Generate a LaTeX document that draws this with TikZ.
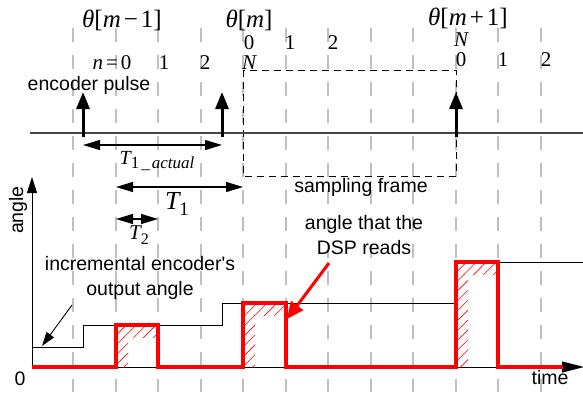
\documentclass[tikz,border=0pt]{standalone}
\usepackage{fontspec}
\setsansfont{Liberation Sans}
\newfontfamily\tms{Liberation Serif}
\usetikzlibrary{arrows.meta,patterns.meta}
\definecolor{gridgray}{RGB}{192,192,192}
\definecolor{axisgray}{RGB}{70,70,70}
\newcommand{\vi}[1]{{\itshape #1}}
\newcommand{\mns}{\hspace{3pt}−\hspace{3pt}}
\newcommand{\pls}{\hspace{3pt}+\hspace{3pt}}
\begin{document}
\begin{tikzpicture}[x=1pt,y=-1pt,
  gridline/.style={gridgray,line width=1.6pt,dash pattern=on 14pt off 13pt},
  pulsearrow/.style={black,line width=3pt,-{Triangle[width=13pt,length=17pt]}},
  dimarrow/.style={black,line width=1.3pt,{Triangle[width=10pt,length=17pt]}-{Triangle[width=10pt,length=17pt]}},
  frame/.style={black,line width=1pt,dash pattern=on 7pt off 5pt},
  redsig/.style={red,line width=3.5pt,line join=miter},
  hatch/.style={pattern={Lines[angle=45,distance=7pt,line width=0.6pt]},pattern color=red},
  lbl/.style={font=\sffamily\fontsize{19.5}{25}\selectfont,inner sep=0pt,align=center},
  thlbl/.style={font=\tms\fontsize{25}{27}\selectfont,inner sep=0pt},
  num/.style={font=\tms\fontsize{21}{23}\selectfont,inner sep=0pt},
]
\useasboundingbox (0,0) rectangle (583,392);
% grid
\foreach \x in {73,116,158,201,243,286,328,371,413,456,498,541}
  \draw[gridline] (\x,28) -- (\x,392);
% labels top
\node[thlbl] (thA) at (122,20) {\vi{θ}[\vi{m}\mns 1]};
\node[thlbl] (thB) at (249,20) {\vi{θ}[\vi{m}]};
\node[thlbl] (thC) at (468,18) {\vi{θ}[\vi{m}\pls 1]};
\node[num] (nA0) at (112,63) {\vi{n}\hspace{3pt}=\hspace{3pt}0};
\node[num] (nA1) at (164,63) {1};
\node[num] (nA2) at (205,63) {2};
\node[num] (nAN) at (249,63) {\vi{N}};
\node[num] (nB0) at (249,43) {0};
\node[num] (nB1) at (290,43) {1};
\node[num] (nB2) at (333,43) {2};
\node[num] (nCN) at (461,40) {\vi{N}};
\node[num] (nC0) at (461,60) {0};
\node[num] (nC1) at (503,60) {1};
\node[num] (nC2) at (546,60) {2};
\node[lbl] (enc) at (89,85) {encoder pulse};
% sampling frame
\draw[frame] (243,70) rectangle (456,176);
% baseline
\coordinate (bl0) at (30,133);
\coordinate (bl1) at (583,133);
\draw[axisgray,line width=1.6pt] (bl0) -- (bl1);
% pulses
\coordinate (pa0) at (83,137); \coordinate (pa1) at (83,92);
\coordinate (pb0) at (222,137); \coordinate (pb1) at (222,92);
\coordinate (pc0) at (456,137); \coordinate (pc1) at (456,92);
\draw[pulsearrow] (pa0) -- (pa1);
\draw[pulsearrow] (pb0) -- (pb1);
\draw[pulsearrow] (pc0) -- (pc1);
% dimension arrows
\coordinate (ta0) at (83,145); \coordinate (ta1) at (222,145);
\coordinate (t10) at (116,187); \coordinate (t11) at (243,187);
\coordinate (t20) at (116,219); \coordinate (t21) at (158,219);
\draw[dimarrow] (ta0) -- (ta1);
\draw[dimarrow] (t10) -- (t11);
\draw[dimarrow] (t20) -- (t21);
\node[font=\tms\fontsize{20}{22}\selectfont,inner sep=0pt] (lta) at (157,161)
  {\vi{T}\raisebox{-4pt}{\fontsize{17}{17}\selectfont 1\hspace{2pt}\_\hspace{2pt}\itshape actual}};
\node[font=\tms\fontsize{26}{28}\selectfont,inner sep=0pt] (lt1) at (177,204)
  {\vi{T}\raisebox{-6pt}{\fontsize{19}{19}\selectfont 1}};
\node[font=\tms\fontsize{21}{23}\selectfont,inner sep=0pt] (lt2) at (139,235)
  {\vi{T}\raisebox{-5pt}{\fontsize{16}{16}\selectfont 2}};
\node[lbl] (sf) at (361,187) {sampling frame};
% axes
\coordinate (org) at (32,367);
\coordinate (ytop) at (32,177);
\coordinate (xend) at (584,367);
\draw[black,line width=1pt,-{Triangle[width=10pt,length=16pt]}] (org) -- (ytop);
\draw[black,line width=1pt,-{Triangle[width=11pt,length=22pt]}] (org) -- (xend);
\node[lbl,rotate=90] (ang) at (18,210) {angle};
\node[lbl] (zero) at (20,379) {0};
\node[lbl] (time) at (550,378) {time};
% hatch
\fill[hatch] (116,325) rectangle (158,337);
\fill[hatch] (116,337) rectangle (128,367);
\fill[hatch] (243,303) rectangle (286,315);
\fill[hatch] (243,315) rectangle (255,367);
\fill[hatch] (456,262) rectangle (498,274);
\fill[hatch] (456,274) rectangle (468,367);
% encoder staircase
\draw[black,line width=1pt] (32,347) -- (83,347) -- (83,325) -- (222,325) -- (222,303) -- (456,303) -- (456,262) -- (583,262);
% red signal
\draw[redsig] (32,367) -- (116,367) -- (116,325) -- (158,325) -- (158,367) -- (243,367) -- (243,303) -- (286,303) -- (286,367) -- (456,367) -- (456,262) -- (498,262) -- (498,367) -- (563,367);
% annotations
\node[lbl] (inc) at (140,278) {incremental encoder\textquotesingle s\\output angle};
\coordinate (incs) at (72,305); \coordinate (ince) at (42,346);
\draw[black,line width=0.9pt,-{Triangle[width=9pt,length=14pt]}] (incs) -- (ince);
\node[lbl] (dsp) at (364,235) {angle that the\\DSP reads};
\coordinate (dsps) at (329,263); \coordinate (dspe) at (287,319);
\draw[red,line width=3pt,-{Triangle[width=15pt,length=17pt]}] (dsps) -- (dspe);
\end{tikzpicture}
\end{document}
